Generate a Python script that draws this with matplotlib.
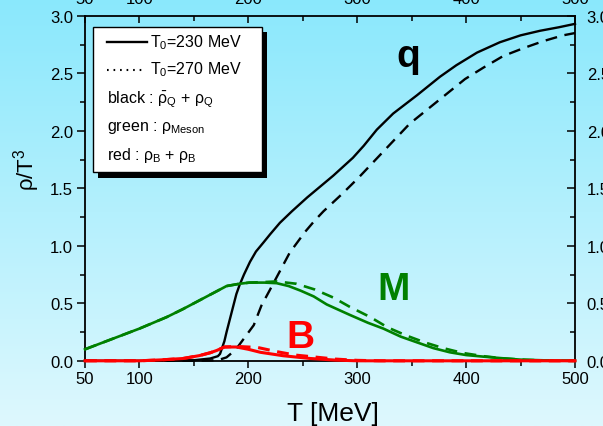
import numpy as np
import matplotlib
matplotlib.use("Agg")
import matplotlib.pyplot as plt
from matplotlib.lines import Line2D
from matplotlib.patches import Rectangle

plt.rcParams['font.family'] = ['Liberation Sans', 'DejaVu Sans']
plt.rcParams['mathtext.fontset'] = 'custom'
plt.rcParams['mathtext.rm'] = 'Liberation Sans'
plt.rcParams['mathtext.it'] = 'Liberation Sans'
plt.rcParams['lines.scale_dashes'] = False

# ---------------- data ----------------
black_230_T = [50, 100, 150, 165, 172, 174, 178, 180, 183, 186, 189, 192, 196, 201.5, 207, 214,
               220, 229, 240, 254, 278, 296, 306, 318, 333, 355, 376, 391, 410, 431, 450, 468, 485, 500]
black_230 = [0, 0, 0.005, 0.02, 0.04, 0.06, 0.17, 0.25, 0.36, 0.47, 0.58, 0.66, 0.75, 0.86, 0.95,
             1.03, 1.10, 1.20, 1.30, 1.42, 1.61, 1.765, 1.87, 2.01, 2.15, 2.31, 2.47, 2.57, 2.68,
             2.77, 2.83, 2.87, 2.90, 2.93]

black_270_T = [50, 100, 150, 172, 180, 185, 191, 198, 205, 212, 220, 229, 238, 252, 261, 269, 286,
               301, 316, 332, 348, 365, 382, 399, 416, 434, 453, 471, 489, 500]
black_270 = [0, 0, 0, 0.005, 0.03, 0.07, 0.13, 0.22, 0.31, 0.48, 0.62, 0.78, 0.94, 1.12, 1.22,
             1.30, 1.45, 1.59, 1.74, 1.90, 2.06, 2.19, 2.32, 2.45, 2.55, 2.65, 2.72, 2.78, 2.83, 2.85]

green_230_T = [50, 75, 100, 125, 140, 156, 174, 180, 192, 201, 215, 226, 237, 248, 260, 272, 293,
               310, 324, 340, 355, 370, 385, 400, 416, 431, 450, 475, 500]
green_230 = [0.10, 0.19, 0.28, 0.38, 0.45, 0.53, 0.62, 0.65, 0.67, 0.68, 0.68, 0.675, 0.65, 0.61,
             0.56, 0.49, 0.40, 0.33, 0.28, 0.21, 0.16, 0.11, 0.074, 0.05, 0.036, 0.024, 0.01, 0.003, 0.0]

green_270_T = [50, 75, 100, 125, 140, 156, 174, 180, 192, 201, 215, 226, 244, 261, 278, 293, 312,
               328, 345, 362, 379, 397, 416, 435, 455, 475, 500]
green_270 = [0.10, 0.19, 0.28, 0.38, 0.45, 0.53, 0.62, 0.65, 0.67, 0.68, 0.685, 0.69, 0.67, 0.62,
             0.55, 0.47, 0.38, 0.29, 0.22, 0.16, 0.11, 0.068, 0.04, 0.02, 0.008, 0.003, 0.0]

red_230_T = [50, 100, 120, 140, 155, 165, 171, 178, 189, 200, 211, 232, 257, 280, 300, 500]
red_230 = [0, 0, 0.008, 0.02, 0.045, 0.07, 0.09, 0.12, 0.12, 0.10, 0.074, 0.044, 0.02, 0.006, 0, 0]

red_270_T = [50, 100, 120, 140, 155, 165, 171, 178, 190, 200, 208, 226, 243, 261, 280, 300, 320, 500]
red_270 = [0, 0, 0.008, 0.02, 0.045, 0.07, 0.09, 0.12, 0.125, 0.12, 0.117, 0.08, 0.05, 0.033,
           0.015, 0.004, 0, 0]

x_ticks = [50, 100, 200, 300, 400, 500]
x_minor = [150, 250, 350, 450]
y_ticks = [0.0, 0.5, 1.0, 1.5, 2.0, 2.5, 3.0]
y_minor = [0.25, 0.75, 1.25, 1.75, 2.25, 2.75]

# ---------------- figure ----------------
W, H = 603, 427
fig = plt.figure(figsize=(W / 100, H / 100), dpi=100)

# gradient background
bg = fig.add_axes([0, 0, 1, 1], zorder=-10)
top_c = np.array([138, 232, 252]) / 255
bot_c = np.array([222, 248, 254]) / 255
t = np.linspace(0, 1, 256)[:, None]
grad = (top_c[None, :] * (1 - t) + bot_c[None, :] * t)[:, None, :]
bg.imshow(grad, aspect='auto', extent=[0, 1, 0, 1], origin='upper')
bg.axis('off')

left, right, top, bottom = 85, 575, 16.8, 361.8
ax = fig.add_axes([left / W, (H - bottom) / H, (right - left) / W, (bottom - top) / H])
ax.set_facecolor('none')

dash = (0, (8.5, 5.5))
ax.plot(black_230_T, black_230, color='black', lw=1.7, zorder=3, clip_on=False)
ax.plot(black_270_T, black_270, color='black', lw=1.7, ls=dash, zorder=3, clip_on=False)
ax.plot(green_230_T, green_230, color='#008000', lw=1.9, zorder=4, clip_on=False)
ax.plot(green_270_T, green_270, color='#008000', lw=1.9, ls=dash, zorder=4, clip_on=False)
ax.plot(red_230_T, red_230, color='#ff0000', lw=2.2, zorder=5, clip_on=False)
ax.plot(red_270_T, red_270, color='#ff0000', lw=2.2, ls=dash, zorder=5, clip_on=False)

ax.set_xlim(50, 500)
ax.set_ylim(0, 3.0)
ax.set_xticks(x_ticks)
ax.set_xticks(x_minor, minor=True)
ax.set_yticks(y_ticks)
ax.set_yticks(y_minor, minor=True)
ax.set_xticklabels([str(v) for v in x_ticks])
ax.set_yticklabels(['%.1f' % v for v in y_ticks])

for s in ax.spines.values():
    s.set_linewidth(1.3)

ax.tick_params(axis='both', which='both', labelsize=12, width=1.1)
ax.tick_params(axis='x', which='major', direction='out', length=5, pad=2,
               top=True, labeltop=True)
ax.tick_params(axis='x', which='minor', direction='out', length=3.5, top=True)
ax.tick_params(axis='y', which='major', direction='out', length=5.5, pad=3,
               right=True, labelright=True)
ax.tick_params(axis='y', which='minor', direction='out', length=3.5, right=True)
# mirrored ticks pointing same way (inward on top/right)
for tk in ax.xaxis.get_major_ticks() + ax.xaxis.get_minor_ticks():
    tk.tick2line.set_marker(3)  # TICKDOWN
for tk in ax.yaxis.get_major_ticks() + ax.yaxis.get_minor_ticks():
    tk.tick2line.set_marker(0)  # TICKLEFT

ax.set_xlabel('T [MeV]', fontsize=19)
ax.xaxis.set_label_coords((333 - left) / (right - left), -(421 - bottom) / (bottom - top))
ax.xaxis.label.set_va('baseline')
ax.set_ylabel(r'$\rho$/T$^3$', fontsize=16)
ax.yaxis.set_label_coords((42 - left) / (right - left), (bottom - 170) / (bottom - top))

# curve labels
ax.text(346.6, 2.56, 'q', fontsize=28, fontweight='bold', color='black', ha='center', va='baseline')
ax.text(333.8, 0.537, 'M', fontsize=28, fontweight='bold', color='#008000', ha='center', va='baseline')
ax.text(248, 0.117, 'B', fontsize=28, fontweight='bold', color='#ff0000', ha='center', va='baseline')

# ---------------- legend box (figure pixel coords) ----------------
def fx(px):
    return px / W

def fy(py):
    return 1 - py / H

shadow = Rectangle((fx(98), fy(178.5)), fx(267) - fx(98), fy(33) - fy(178.5),
                   transform=fig.transFigure, facecolor='black', edgecolor='none', zorder=20)
box = Rectangle((fx(93), fy(172.5)), fx(262) - fx(93), fy(28.3) - fy(172.5),
                transform=fig.transFigure, facecolor='white', edgecolor='black', lw=1.0, zorder=21)
fig.add_artist(shadow)
fig.add_artist(box)

fig.add_artist(Line2D([fx(106.5), fx(146.5)], [fy(43.3), fy(43.3)], transform=fig.transFigure,
                      color='black', lw=1.7, zorder=22))
fig.add_artist(Line2D([fx(107), fx(145)], [fy(70.5), fy(70.5)], transform=fig.transFigure,
                      color='black', lw=1.5, ls=(0, (1.2, 3.5)), zorder=22))
lkw = dict(fontsize=11.5, transform=fig.transFigure, zorder=22, va='center', ha='left')
fig.text(fx(150), fy(43), r'T$_0$=230 MeV', **lkw)
fig.text(fx(150), fy(70), r'T$_0$=270 MeV', **lkw)
fig.text(fx(107), fy(100), r'black : $\bar{\rho}_{\rm Q}$ + $\rho_{\rm Q}$', **lkw)
fig.text(fx(107), fy(128), r'green : $\rho_{\rm Meson}$', **lkw)
fig.text(fx(107), fy(156), r'red : $\rho_{\rm B}$ + $\rho_{\rm B}$', **lkw)

fig.savefig('out.png', dpi=100)
